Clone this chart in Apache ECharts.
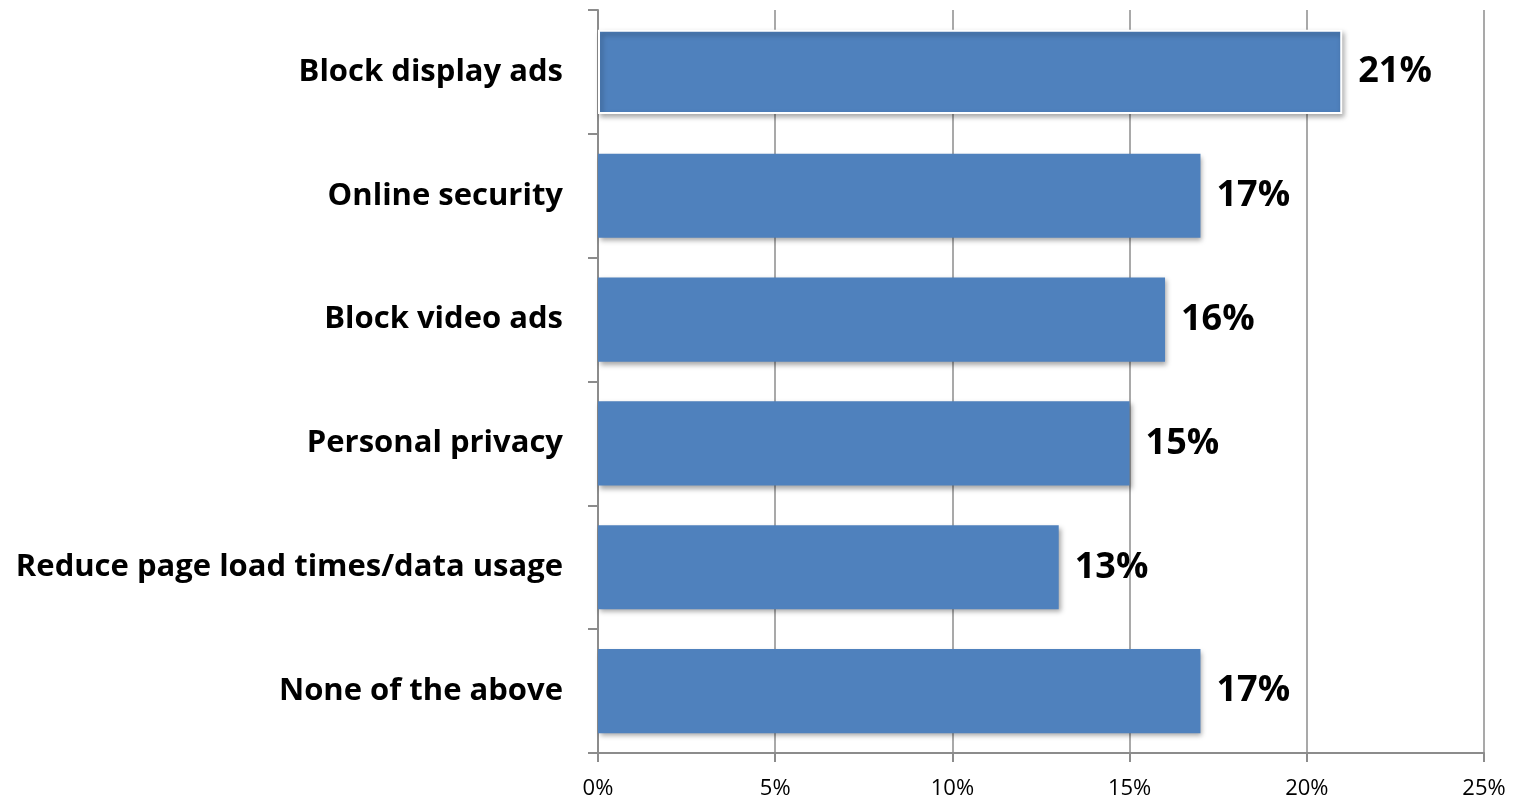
<!DOCTYPE html>
<html>
<head>
<meta charset="utf-8">
<script src="https://cdn.jsdelivr.net/npm/echarts@6/dist/echarts.min.js"></script>
<style>
  html, body { margin: 0; padding: 0; background: #fff; }
  #chart { width: 1516px; height: 801px; }
</style>
</head>
<body>
<div id="chart"></div>
<script>
// Reasons for using an ad blocker (share of respondents, %)
const categories = [
  'Block display ads',
  'Online security',
  'Block video ads',
  'Personal privacy',
  'Reduce page load times/data usage',
  'None of the above'
];
const values = [21, 17, 16, 15, 13, 17];
const axisTicks = [0, 5, 10, 15, 20, 25];

const FONT = '"Open Sans", Lato, sans-serif';
const BAR_COLOR = '#4F81BD';
const GRID_COLOR = '#8C8C8C';

const chart = echarts.init(document.getElementById('chart'));

// Category axis runs bottom-to-top, so feed reversed order
const catsRev = categories.slice().reverse();
const valsRev = values.slice().reverse();

chart.setOption({
  animation: false,
  backgroundColor: '#ffffff',
  grid: { left: 598, right: 32, top: 10, bottom: 48, containLabel: false },
  xAxis: {
    type: 'value',
    min: axisTicks[0],
    max: axisTicks[axisTicks.length - 1],
    interval: axisTicks[1] - axisTicks[0],
    axisLine: { show: true, lineStyle: { color: GRID_COLOR, width: 2 } },
    axisTick: { show: true, length: 9, lineStyle: { color: GRID_COLOR, width: 2 } },
    splitLine: { show: true, lineStyle: { color: GRID_COLOR, width: 1.5 } },
    axisLabel: {
      formatter: v => v + '%',
      color: '#000',
      fontFamily: FONT,
      fontSize: 22,
      margin: 25
    }
  },
  yAxis: {
    type: 'category',
    data: catsRev,
    axisLine: { show: true, lineStyle: { color: GRID_COLOR, width: 2 } },
    axisTick: { show: true, length: 10, lineStyle: { color: GRID_COLOR, width: 2 } },
    axisLabel: {
      color: '#000',
      fontFamily: FONT,
      fontWeight: 'bold',
      fontSize: 31,
      margin: 35
    }
  },
  series: [{
    type: 'bar',
    data: valsRev.map((v, i) => {
      const item = { value: v };
      // the top bar is drawn with a thin white outline
      if (i === valsRev.length - 1) {
        item.itemStyle = { borderColor: '#ffffff', borderWidth: 2 };
      }
      return item;
    }),
    barCategoryGap: '32%',
    itemStyle: {
      color: BAR_COLOR,
      shadowColor: 'rgba(0,0,0,0.35)',
      shadowBlur: 5,
      shadowOffsetX: 2,
      shadowOffsetY: 3
    },
    label: {
      show: true,
      position: 'right',
      distance: 16,
      formatter: p => p.value + '%',
      color: '#000',
      fontFamily: FONT,
      fontWeight: 'bold',
      fontSize: 36
    }
  }]
});
</script>
</body>
</html>
